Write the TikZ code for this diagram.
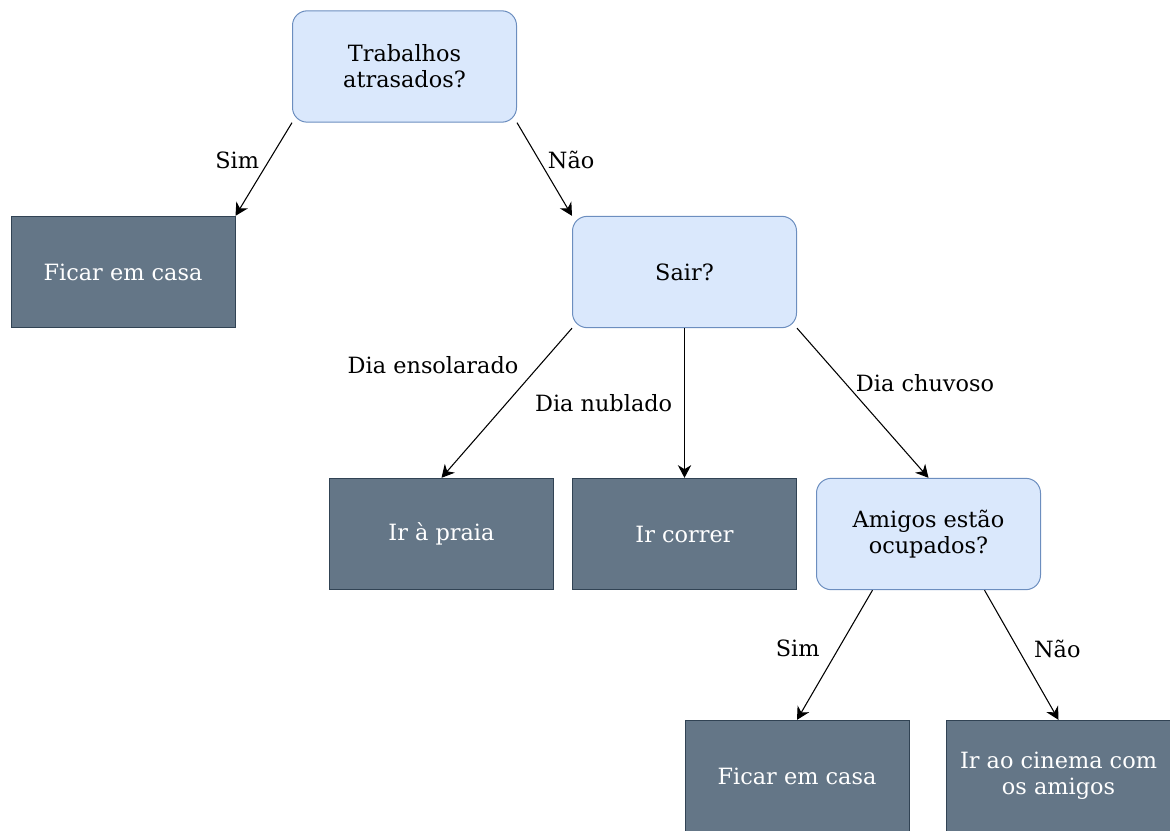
\documentclass[tikz,border=0pt]{standalone}
\usepackage{fontspec}
\setmainfont{DejaVu Serif}
\usetikzlibrary{arrows.meta}

\definecolor{askfill}{HTML}{DAE8FC}
\definecolor{askdraw}{HTML}{6C8EBF}
\definecolor{dofill}{HTML}{647687}
\definecolor{dodraw}{HTML}{314354}

\tikzstyle{ask}=[rectangle, draw=askdraw, fill=askfill, minimum width=168pt, minimum height=83.5pt, rounded corners=11pt, align=center, line width=0.75pt]
\tikzstyle{todo}=[rectangle, draw=dodraw, fill=dofill, text=white, minimum width=168pt, minimum height=83.5pt, align=center, line width=0.75pt]
\tikzstyle{branch}=[-{Stealth[length=9.5pt,width=10pt,inset=3pt]}, line width=0.8pt]

\begin{document}
\begin{tikzpicture}[x=0.75pt, y=-0.75pt, font=\fontsize{16.8}{19.3}\selectfont]
    \useasboundingbox (0,0) rectangle (1170,831);

    \node[ask] (atrasados) at (404.5,66.5) {Trabalhos\\atrasados?};

    \node[todo] (casa) at (123,272) {Ficar em casa};

    \node[ask] (sair) at (684.5,272) {Sair?};

    \node[todo] (praia) at (441.5,534) {Ir à praia};

    \node[todo] (correr) at (684.5,534) {Ir correr};

    \node[ask] (amigos) at (928.5,534) {Amigos estão\\ocupados?};

    \node[todo] (casaB) at (797,776) {Ficar em casa};

    \node[todo] (cinema) at (1058.5,776) {Ir ao cinema com\\os amigos};

    \draw[branch] (atrasados.south west) -- node[pos=0.4, left=4pt] {Sim} (casa.north east);
    \draw[branch] (atrasados.south east) -- node[pos=0.4, right=3pt] {Não} (sair.north west);

    \draw[branch] (sair.south west) -- node[pos=0.25, left=12pt] {Dia ensolarado} (praia.north);
    \draw[branch] (sair) -- node[pos=0.5, left=5.5pt] {Dia nublado} (correr);
    \draw[branch] (sair.south east) -- node[pos=0.37, right=4pt] {Dia chuvoso} (amigos.north);

    \draw[branch] ([xshift=-42pt]amigos.south) -- node[pos=0.45, left=10.5pt] {Sim} (casaB.north);
    \draw[branch] ([xshift=42pt]amigos.south) -- node[pos=0.45, right=8.5pt] {Não} (cinema.north);
\end{tikzpicture}
\end{document}
